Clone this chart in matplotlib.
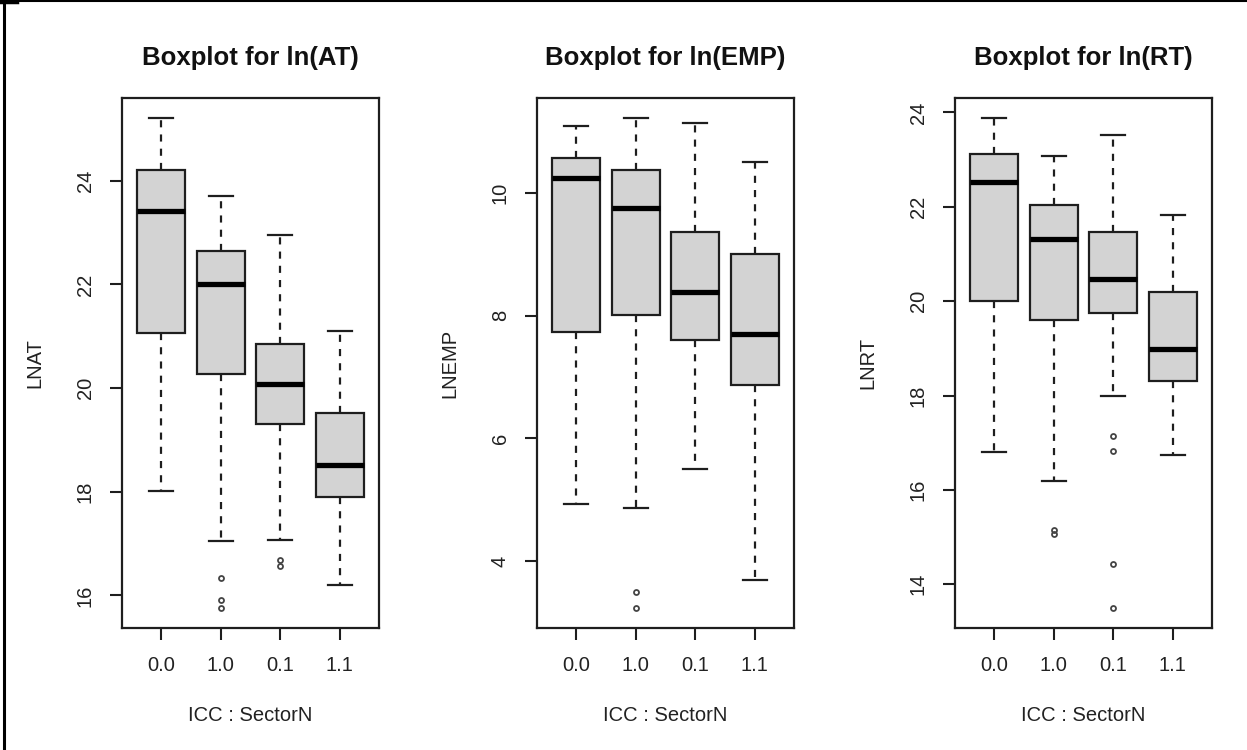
import matplotlib
matplotlib.use("Agg")
import matplotlib.pyplot as plt
from matplotlib.lines import Line2D

plt.rcParams['font.family'] = ['Liberation Sans', 'DejaVu Sans']

groups = ["0.0", "1.0", "0.1", "1.1"]

# ln(AT)
at_whislo = [18.02, 17.05, 17.07, 16.21]
at_q1 = [21.07, 20.27, 19.30, 17.89]
at_med = [23.42, 22.00, 20.08, 18.51]
at_q3 = [24.21, 22.64, 20.85, 19.52]
at_whishi = [25.22, 23.71, 22.95, 21.10]
at_fliers = [[], [16.33, 15.92, 15.75], [16.69, 16.57], []]

# ln(EMP)
emp_whislo = [4.93, 4.87, 5.51, 3.69]
emp_q1 = [7.73, 8.01, 7.61, 6.87]
emp_med = [10.25, 9.76, 8.39, 7.70]
emp_q3 = [10.58, 10.37, 9.37, 9.00]
emp_whishi = [11.10, 11.23, 11.14, 10.51]
emp_fliers = [[], [3.50, 3.23], [], []]

# ln(RT)
rt_whislo = [16.80, 16.19, 17.99, 16.75]
rt_q1 = [20.00, 19.60, 19.75, 18.30]
rt_med = [22.52, 21.32, 20.48, 18.99]
rt_q3 = [23.11, 22.03, 21.47, 20.20]
rt_whishi = [23.89, 23.08, 23.52, 21.83]
rt_fliers = [[], [15.15, 15.07], [17.15, 16.83, 14.42, 13.49], []]

panels = [
    ("Boxplot for ln(AT)", "LNAT", at_whislo, at_q1, at_med, at_q3, at_whishi, at_fliers, [16, 18, 20, 22, 24]),
    ("Boxplot for ln(EMP)", "LNEMP", emp_whislo, emp_q1, emp_med, emp_q3, emp_whishi, emp_fliers, [4, 6, 8, 10]),
    ("Boxplot for ln(RT)", "LNRT", rt_whislo, rt_q1, rt_med, rt_q3, rt_whishi, rt_fliers, [14, 16, 18, 20, 22, 24]),
]

W, H = 1247, 750
fig = plt.figure(figsize=(W / 100, H / 100), dpi=100)
lefts = [122, 537, 955]
ink = "#1e1e1e"

for (title, ylab, lo, q1, med, q3, hi, fl, yt), left in zip(panels, lefts):
    ax = fig.add_axes([left / W, (H - 628) / H, 257 / W, 530 / H])
    stats = []
    for i in range(4):
        stats.append(dict(whislo=lo[i], q1=q1[i], med=med[i], q3=q3[i],
                          whishi=hi[i], fliers=fl[i], label=groups[i]))
    ax.bxp(stats, positions=[1, 2, 3, 4], widths=0.8, patch_artist=True,
           boxprops=dict(facecolor="#d3d3d3", edgecolor=ink, linewidth=1.6),
           medianprops=dict(color="black", linewidth=3.8, solid_capstyle="butt"),
           whiskerprops=dict(color=ink, linewidth=1.6, linestyle=(0, (3.2, 3.2))),
           capprops=dict(color=ink, linewidth=1.6),
           capwidths=0.4,
           flierprops=dict(marker="o", markersize=3.6, markerfacecolor="none",
                           markeredgecolor="#444444", markeredgewidth=1.3))
    allv = lo + hi + [v for f in fl for v in f]
    vmin, vmax = min(allv), max(allv)
    pad = (vmax - vmin) * 0.04
    ax.set_ylim(vmin - pad, vmax + pad)
    ax.set_xlim(0.34, 4.66)
    ax.set_yticks(yt)
    ax.set_yticklabels([str(v) for v in yt], rotation=90, va="center")
    ax.tick_params(axis="both", length=8.5, width=1.5, color=ink,
                   labelsize=14.5, pad=11, labelcolor="#222222")
    ax.tick_params(axis="x", pad=12)
    for s in ax.spines.values():
        s.set_linewidth(1.6)
        s.set_color(ink)
    ax.set_title(title, fontsize=18.5, fontweight="bold", pad=24, color="#111111")
    ax.set_xlabel("ICC : SectorN", fontsize=14.5, labelpad=22, color="#222222")
    ax.set_ylabel(ylab, fontsize=14.5, labelpad=23, color="#222222")

# screenshot frame on left and top
fig.add_artist(Line2D([4 / W, 4 / W], [0, 1], color="black", linewidth=2.2))
fig.add_artist(Line2D([0, 1], [1 - 0.8 / H, 1 - 0.8 / H], color="black", linewidth=1.5))
fig.add_artist(Line2D([0, 17 / W], [1 - 1.5 / H, 1 - 1.5 / H], color="black", linewidth=2.5))

fig.savefig("out.png", dpi=100)
